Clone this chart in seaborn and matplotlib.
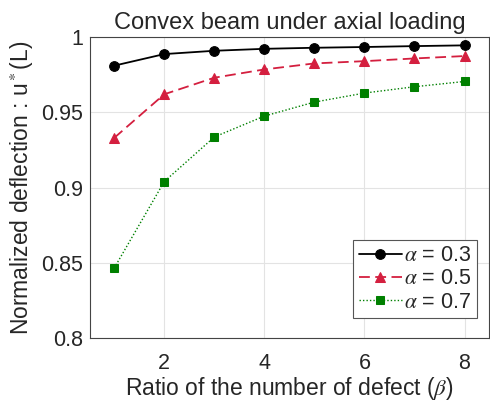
import matplotlib
matplotlib.use("Agg")
import matplotlib.pyplot as plt
import seaborn as sns
import pandas as pd

beta = [1, 2, 3, 4, 5, 6, 7, 8]
u_a03 = [0.981, 0.9887, 0.9909, 0.9922, 0.9929, 0.9934, 0.9940, 0.9945]
u_a05 = [0.933, 0.962, 0.973, 0.9785, 0.9825, 0.9840, 0.9858, 0.9874]
u_a07 = [0.8465, 0.904, 0.9336, 0.9475, 0.9568, 0.9628, 0.9670, 0.9705]
labels = [r"$\alpha$ = 0.3", r"$\alpha$ = 0.5", r"$\alpha$ = 0.7"]
xticks = [2, 4, 6, 8]
yticks = [0.8, 0.85, 0.9, 0.95, 1.0]
yticklabels = ["0.8", "0.85", "0.9", "0.95", "1"]

sns.set_theme(style="whitegrid")
plt.rcParams["font.family"] = ["Liberation Sans", "DejaVu Sans"]
plt.rcParams["mathtext.fontset"] = "stix"

fig = plt.figure(figsize=(4.9, 4.03), dpi=100)
ax = fig.add_axes([0.184, 0.161, 0.813, 0.747])

styles = [
    dict(color="black", linestyle="-", marker="o", markersize=7, linewidth=1.3),
    dict(color="#D41F3F", linestyle=(0, (6, 3)), marker="^", markersize=7.5, linewidth=1.3),
    dict(color="#008000", linestyle=(0, (1, 1.5)), marker="s", markersize=5.5, linewidth=1.0),
]
for vals, lab, st in zip([u_a03, u_a05, u_a07], labels, styles):
    df = pd.DataFrame({"beta": beta, "u": vals})
    sns.lineplot(data=df, x="beta", y="u", ax=ax, label=lab,
                 markeredgecolor=st["color"], **st)

ax.set_xlim(0.52, 8.48)
ax.set_ylim(0.8, 1.0)
ax.set_xticks(xticks)
ax.set_yticks(yticks)
ax.set_yticklabels(yticklabels)
ax.tick_params(axis="both", labelsize=15.5, length=3, color="#444444", direction="in")
ax.tick_params(axis="x", pad=11)
ax.tick_params(axis="y", pad=5)
for s in ax.spines.values():
    s.set_visible(True)
    s.set_color("#444444")
    s.set_linewidth(0.8)
ax.grid(True, color="#e3e3e3", linewidth=0.8)
ax.set_title("Convex beam under axial loading", fontsize=17, pad=6)
ax.set_xlabel(r"Ratio of the number of defect ($\beta$)", fontsize=16.5, labelpad=0.5)
ax.set_ylabel(r"Normalized deflection : u$^*$(L)", fontsize=16.5, labelpad=4)
leg = ax.legend(loc="lower right", fontsize=15.5, frameon=True, fancybox=False,
                edgecolor="#555555", framealpha=1, handlelength=2.0,
                handletextpad=0.1, borderpad=0.25, labelspacing=0.1,
                borderaxespad=0, bbox_to_anchor=(0.97, 0.067))
leg.get_frame().set_linewidth(0.8)

fig.savefig("out.png", dpi=100)
